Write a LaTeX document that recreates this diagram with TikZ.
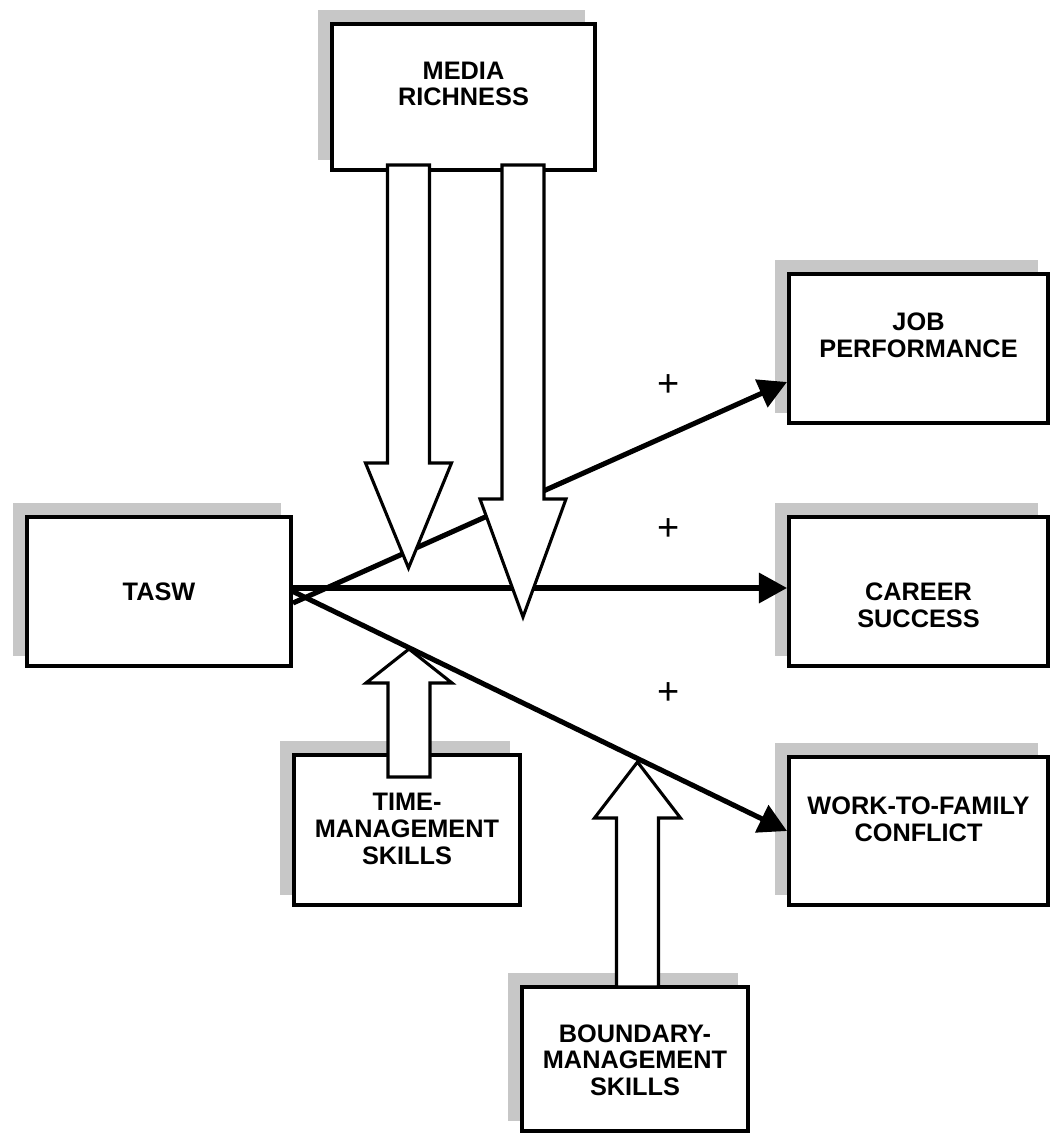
\documentclass[tikz,border=0pt]{standalone}
\usepackage{fontspec}
\setmainfont{Liberation Sans}
\usetikzlibrary{positioning, arrows.meta, shapes, shadows, calc}

\begin{document}
\begin{tikzpicture}[x=0.025cm, y=-0.025cm]
        \tikzstyle{box} = [rectangle, draw=black, fill=white, line width=2.8pt,
          drop shadow={shadow xshift=-0.29cm, shadow yshift=0.3cm, fill=black!22, draw=black!22, opacity=1}]
        \tikzstyle{outcome} = [box, minimum width=6.475cm, minimum height=3.72cm]
        \tikzstyle{skill} = [box, minimum width=5.65cm]
        \tikzstyle{lbl} = [align=center, inner sep=0pt, font=\fontsize{18}{19}\selectfont\bfseries]
        \tikzstyle{link} = [line width=3.6pt, -{Triangle[length=20pt, width=21pt]}]
        \tikzstyle{fat} = [draw=black, fill=white, line width=2.2pt, line join=miter]
        \tikzstyle{sign} = [inner sep=0pt, font=\fontsize{27}{27}\selectfont]

        \useasboundingbox (0,0) rectangle (1052,1137);

        \node[box, minimum width=6.575cm, minimum height=3.65cm] (mr) at (463.5,97) {};
        \node[box, minimum width=6.6cm, minimum height=3.725cm] (tasw) at (159,591.5) {};
        \node[outcome] (job) at (918.5,348.5) {};
        \node[outcome] (car) at (918.5,591.5) {};
        \node[outcome] (wfc) at (918.5,831) {};
        \node[skill, minimum height=3.75cm] (tm) at (407,830) {};
        \node[skill, minimum height=3.6cm] (bm) at (635,1059) {};

        \coordinate (mra) at ($(mr.south)+(-55,-7)$);
        \coordinate (mrb) at ($(mr.south)+(59.5,-7)$);
        \coordinate (mratip) at (408.5,568);
        \coordinate (mrbtip) at (523,617);
        \coordinate (tma) at ($(tm.north)+(2,24)$);
        \coordinate (tmtip) at (409,649);
        \coordinate (bma) at ($(bm.north)+(2.5,2)$);
        \coordinate (bmtip) at (637.5,762);

        \foreach \s/\t/\h in {tma/tmtip/34, bma/bmtip/56}
          \draw[fat] ($(\s)+(-21,0)$) -- ($(\t)+(-21,\h)$) -- ($(\t)+(-43,\h)$) -- (\t)
            -- ($(\t)+(43,\h)$) -- ($(\t)+(21,\h)$) -- ($(\s)+(21,0)$) -- cycle;

        \draw[link] ($(tasw.east)+(0,11.5)$) -- ($(job.west)+(0,33.5)$);
        \draw[link] ($(tasw.east)+(0,-3.5)$) -- ($(car.west)+(0,-3.5)$);
        \draw[link] (tasw.east) -- (wfc.west);

        \foreach \s/\t/\h in {mra/mratip/-105, mrb/mrbtip/-118}
          \draw[fat] ($(\s)+(-21,0)$) -- ($(\t)+(-21,\h)$) -- ($(\t)+(-43,\h)$) -- (\t)
            -- ($(\t)+(43,\h)$) -- ($(\t)+(21,\h)$) -- ($(\s)+(21,0)$) -- cycle;

        \node[lbl] (mrt) at (463.5,84) {MEDIA\\RICHNESS};
        \node[lbl] (taswt) at (159,591.5) {TASW};
        \node[lbl] (jobt) at (918.5,335) {JOB\\PERFORMANCE};
        \node[lbl] (cart) at (918.5,605.5) {CAREER\\SUCCESS};
        \node[lbl] (wfct) at (918.5,819.5) {WORK-TO-FAMILY\\CONFLICT};
        \node[lbl] (tmt) at (407,829) {TIME-\\MANAGEMENT\\SKILLS};
        \node[lbl] (bmt) at (635,1060) {BOUNDARY-\\MANAGEMENT\\SKILLS};

        \foreach \y [count=\i] in {386, 530, 694}
          \node[sign] (plus\i) at (669,\y) {+};
      \end{tikzpicture}
\end{document}
